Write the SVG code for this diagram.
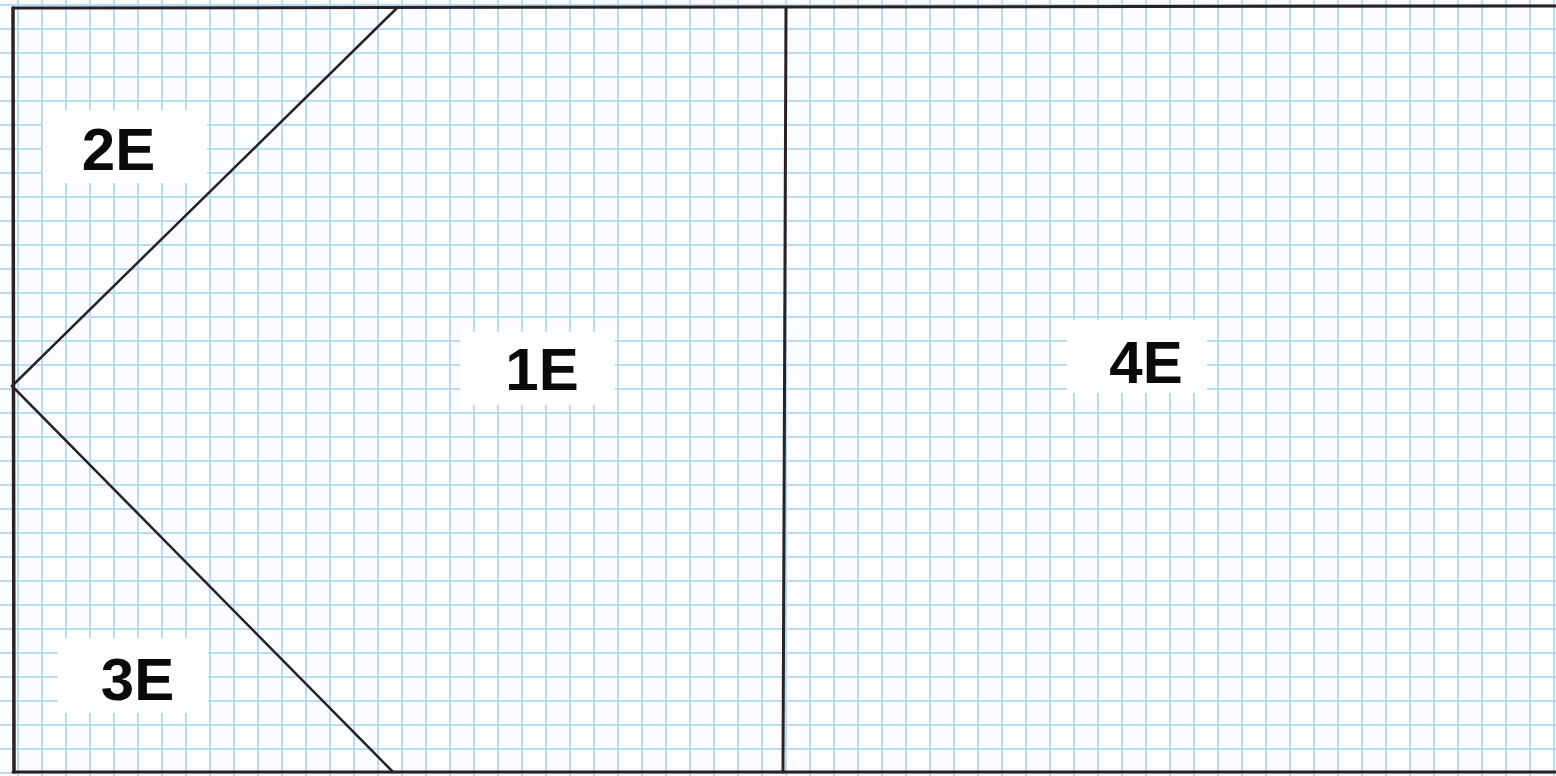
<svg xmlns="http://www.w3.org/2000/svg" width="1556" height="776" viewBox="0 0 1556 776">
<style>
.ink{stroke:#2b2024;stroke-linecap:round;fill:none}
.tag{fill:#ffffff}
.lbl{font-family:"Liberation Sans",Arial,sans-serif;font-weight:bold;font-size:60px;fill:#0a0a0a;text-anchor:middle}
</style>
<defs>
<pattern id="grid" x="6" y="-7" width="24" height="24" patternUnits="userSpaceOnUse">
<path d="M12 0 V24 M0 12 H24" stroke="#b9dcf1" stroke-width="2" fill="none"/>
</pattern>
</defs>
<rect x="0" y="0" width="1556" height="776" fill="#fcfdff"/>
<rect x="0" y="0" width="1556" height="776" fill="url(#grid)"/>
<g id="connectors">
<path class="ink" stroke-width="3" d="M13 8 L1556 6"/>
<path class="ink" stroke-width="3" d="M13 772 L1556 772"/>
<path class="ink" stroke-width="3.5" d="M13 8 L14 772"/>
<path class="ink" stroke-width="3" d="M786 8 L783 772"/>
<path class="ink" stroke-width="2.5" d="M398 7 L12 386 L393 772"/>
</g>
<g id="n2E">
<rect class="tag" x="43" y="110" width="164" height="73"/>
<text class="lbl" x="118.5" y="170">2E</text>
</g>
<g id="n1E">
<rect class="tag" x="460" y="332" width="155" height="73"/>
<text class="lbl" x="542" y="390">1E</text>
</g>
<g id="n3E">
<rect class="tag" x="58" y="638" width="150" height="75"/>
<text class="lbl" x="137.5" y="700">3E</text>
</g>
<g id="n4E">
<rect class="tag" x="1067" y="320" width="140" height="73"/>
<text class="lbl" x="1146" y="383">4E</text>
</g>
</svg>
